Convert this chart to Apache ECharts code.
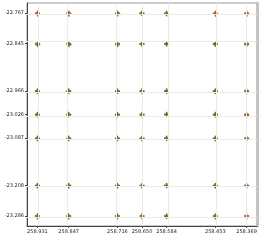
<!DOCTYPE html>
<html><head><meta charset="utf-8">
<script src="https://cdn.jsdelivr.net/npm/echarts@6/dist/echarts.min.js"></script>
<style>html,body{margin:0;padding:0;background:#fff}#c{width:261px;height:240px}</style>
</head><body><div id="c"></div>
<script>
var xTicks = [258.931, 258.847, 258.716, 258.650, 258.584, 258.453, 258.369];
var yTicks = [-22.767, -22.845, -22.966, -23.026, -23.087, -23.208, -23.286];
// red markers: reference grid positions
var redX = [258.931, 258.847, 258.716, 258.650, 258.584, 258.453, 258.369];
var redY = [-22.767, -22.845, -22.966, -23.026, -23.087, -23.208, -23.286];
// green markers: estimated positions (slightly offset)
var greenPts = [
 [258.930,-22.770],[258.846,-22.770],[258.715,-22.769],[258.651,-22.768],[258.584,-22.769],[258.452,-22.770],[258.368,-22.770],
 [258.930,-22.848],[258.846,-22.848],[258.716,-22.848],[258.650,-22.847],[258.584,-22.846],[258.453,-22.847],[258.369,-22.848],
 [258.931,-22.968],[258.847,-22.968],[258.716,-22.968],[258.650,-22.968],[258.584,-22.967],[258.453,-22.968],[258.369,-22.968],
 [258.931,-23.028],[258.847,-23.028],[258.716,-23.028],[258.650,-23.028],[258.584,-23.027],[258.453,-23.028],[258.369,-23.029],
 [258.931,-23.089],[258.847,-23.089],[258.716,-23.089],[258.650,-23.089],[258.584,-23.088],[258.453,-23.089],[258.369,-23.089],
 [258.931,-23.210],[258.847,-23.210],[258.716,-23.210],[258.650,-23.210],[258.584,-23.209],[258.453,-23.210],[258.369,-23.210],
 [258.931,-23.289],[258.847,-23.289],[258.716,-23.289],[258.650,-23.289],[258.584,-23.288],[258.453,-23.289],[258.369,-23.289]
];
var redPts = [];
redY.forEach(function(y){ redX.forEach(function(x){ redPts.push([x,y]); }); });

var RED = '#e8352a', GREEN = '#2a8a2a';
function arm(data, color, size, z, op){
  return {type:'scatter', data:data, symbol:'rect', symbolSize:size, z:z,
    itemStyle:{color:color, opacity:op}};
}
var gridLineStyle = {color:'#ebebeb', width:1, type:'solid'};
var chart = echarts.init(document.getElementById('c'), null, {renderer:'canvas'});
chart.setOption({
  animation:false,
  grid:{left:27, top:3, right:4, bottom:14, show:true, borderColor:'#999', borderWidth:1},
  xAxis:[{type:'value', inverse:true, min:258.341, max:258.959,
    splitLine:{show:false},
    axisLine:{show:true, onZero:false, lineStyle:{color:'#444', width:1}},
    axisTick:{show:true, customValues:xTicks, length:2, lineStyle:{color:'#444'}},
    axisLabel:{customValues:xTicks, fontSize:5, fontFamily:'DejaVu Sans', color:'#222', margin:3,
      formatter:function(v){return v.toFixed(3);}}}],
  yAxis:[{type:'value', min:-23.312, max:-22.741,
    splitLine:{show:false},
    axisLine:{show:true, onZero:false, lineStyle:{color:'#444', width:1}},
    axisTick:{show:true, customValues:yTicks, length:2, lineStyle:{color:'#444'}},
    axisLabel:{customValues:yTicks, fontSize:5, fontFamily:'DejaVu Sans', color:'#222', margin:3,
      formatter:function(v){return v.toFixed(3);}}},
    {type:'value', position:'right', min:-23.312, max:-22.741,
     axisLine:{show:true, lineStyle:{color:'#c4c4c4', width:3}}, axisTick:{show:false}, axisLabel:{show:false}, splitLine:{show:false}}],
  series:[
    {type:'scatter', data:[], z:1, silent:true,
     markLine:{silent:true, symbol:'none', label:{show:false}, lineStyle:gridLineStyle,
       data: xTicks.map(function(x){return {xAxis:x};}).concat(yTicks.map(function(y){return {yAxis:y};}))}},
    arm(redPts, RED, [5,1.4], 3, 1),
    arm(redPts, RED, [1.4,5], 3, 1),
    arm(greenPts, GREEN, [5,1.4], 4, 0.85),
    arm(greenPts, GREEN, [1.4,5], 4, 0.85)
  ]
});
</script></body></html>
